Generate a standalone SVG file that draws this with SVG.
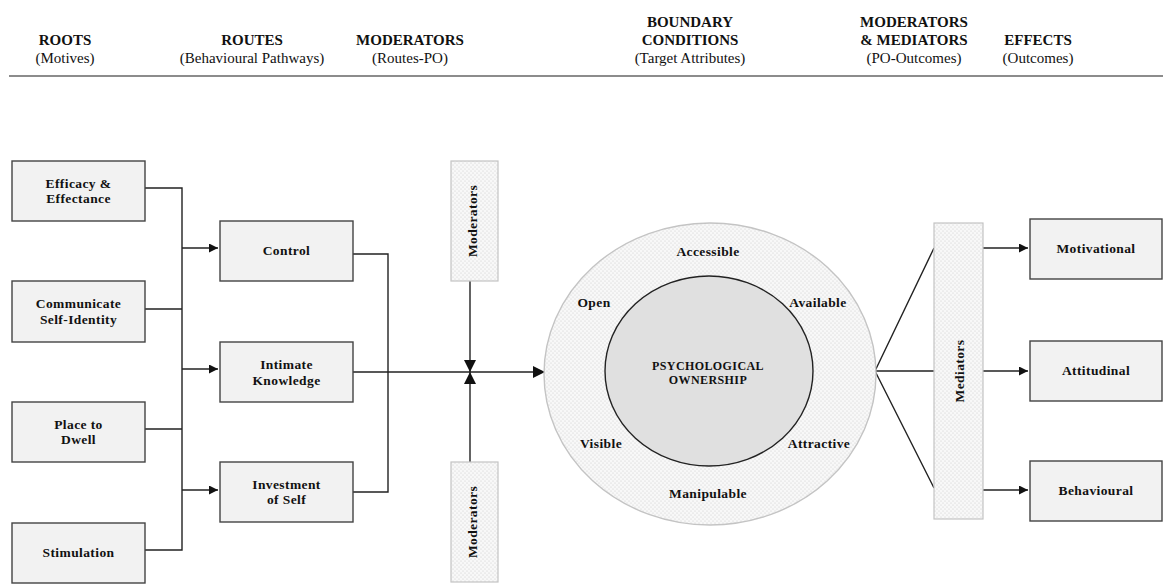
<svg xmlns="http://www.w3.org/2000/svg" width="1168" height="584" viewBox="0 0 1168 584" font-family="'Liberation Serif', 'Times New Roman', 'DejaVu Serif', serif">
<style>
text{font-family:'Liberation Serif','Times New Roman','DejaVu Serif',serif;fill:#111}
.h{font-size:15px;font-weight:bold;text-anchor:middle}
.s{font-size:15px;text-anchor:middle}
.n{font-size:13.5px;font-weight:bold;text-anchor:middle;letter-spacing:0.4px}
.box{fill:#f2f2f2;stroke:#444;stroke-width:1.4}
.dot{fill:url(#dots);stroke:#c4c4c4;stroke-width:1.2}
.ln{fill:none;stroke:#222;stroke-width:1.4}
</style>
<defs>
<pattern id="dots" width="4" height="4" patternUnits="userSpaceOnUse">
<rect width="4" height="4" fill="#f8f8f8"/>
<circle cx="1" cy="1" r="0.55" fill="#c8c8c8"/>
<circle cx="3" cy="3" r="0.55" fill="#c8c8c8"/>
</pattern>
<marker id="ar" viewBox="0 0 10 10" refX="10" refY="5" markerWidth="9" markerHeight="9" markerUnits="userSpaceOnUse" orient="auto">
<path d="M0,0 L10,5 L0,10 z" fill="#111"/>
</marker>
<marker id="ar2" viewBox="0 0 10 10" refX="10" refY="5" markerWidth="12" markerHeight="12" markerUnits="userSpaceOnUse" orient="auto">
<path d="M0,0 L10,5 L0,10 z" fill="#111"/>
</marker>
</defs>
<rect width="1168" height="584" fill="#fff"/>

<g id="header">
<text class="h" x="65" y="45">ROOTS</text>
<text class="s" x="65" y="63">(Motives)</text>
<text class="h" x="252" y="45">ROUTES</text>
<text class="s" x="252" y="63">(Behavioural Pathways)</text>
<text class="h" x="410" y="45">MODERATORS</text>
<text class="s" x="410" y="63">(Routes-PO)</text>
<text class="h" x="690" y="27">BOUNDARY</text>
<text class="h" x="690" y="45">CONDITIONS</text>
<text class="s" x="690" y="63">(Target Attributes)</text>
<text class="h" x="914" y="27">MODERATORS</text>
<text class="h" x="914" y="45">&amp; MEDIATORS</text>
<text class="s" x="914" y="63">(PO-Outcomes)</text>
<text class="h" x="1038" y="45">EFFECTS</text>
<text class="s" x="1038" y="63">(Outcomes)</text>
<line x1="9" y1="76" x2="1163" y2="76" stroke="#666" stroke-width="1.6"/>
</g>

<g id="connectors">
<path class="ln" d="M145,188 H182 V550 H145 M145,309 H182 M145,429 H182"/>
<line class="ln" x1="182" y1="248" x2="218" y2="248" marker-end="url(#ar)"/>
<line class="ln" x1="182" y1="369" x2="218" y2="369" marker-end="url(#ar)"/>
<line class="ln" x1="182" y1="490" x2="218" y2="490" marker-end="url(#ar)"/>
<path class="ln" d="M353,254 H388 V492 H353 M353,372 H388"/>
<line class="ln" x1="388" y1="372" x2="545" y2="372" marker-end="url(#ar2)"/>
<line class="ln" x1="470" y1="281" x2="470" y2="372" marker-end="url(#ar2)"/>
<line class="ln" x1="470" y1="462" x2="470" y2="372" marker-end="url(#ar2)"/>
<path class="ln" d="M875,371 L934,248 M875,371 H934 M875,371 L934,488"/>
<path d="M934,248 H983 M934,371 H983 M934,488 H983" stroke="#aaa" stroke-width="0.8" fill="none"/>
<line class="ln" x1="983" y1="248" x2="1028" y2="248" marker-end="url(#ar)"/>
<line class="ln" x1="983" y1="371" x2="1028" y2="371" marker-end="url(#ar)"/>
<line class="ln" x1="983" y1="490" x2="1028" y2="490" marker-end="url(#ar)"/>
</g>

<g id="efficacy"><rect class="box" x="12" y="161" width="133" height="60"/><text class="n" x="78.5" y="188">Efficacy &amp;</text><text class="n" x="78.5" y="203">Effectance</text></g>
<g id="communicate"><rect class="box" x="12" y="281" width="133" height="61"/><text class="n" x="78.5" y="308">Communicate</text><text class="n" x="78.5" y="324">Self-Identity</text></g>
<g id="place"><rect class="box" x="12" y="402" width="133" height="60"/><text class="n" x="78.5" y="429">Place to</text><text class="n" x="78.5" y="444">Dwell</text></g>
<g id="stimulation"><rect class="box" x="12" y="523" width="133" height="60"/><text class="n" x="78.5" y="557">Stimulation</text></g>

<g id="control"><rect class="box" x="220" y="221" width="133" height="60"/><text class="n" x="286.5" y="255">Control</text></g>
<g id="intimate"><rect class="box" x="220" y="342" width="133" height="60"/><text class="n" x="286.5" y="369">Intimate</text><text class="n" x="286.5" y="385">Knowledge</text></g>
<g id="investment"><rect class="box" x="220" y="462" width="133" height="60"/><text class="n" x="286.5" y="489">Investment</text><text class="n" x="286.5" y="504">of Self</text></g>

<g id="moderators-top"><rect class="dot" x="451" y="161" width="47" height="120"/><text class="n" transform="translate(477,221) rotate(-90)">Moderators</text></g>
<g id="moderators-bottom"><rect class="dot" x="451" y="462" width="47" height="120"/><text class="n" transform="translate(477,522) rotate(-90)">Moderators</text></g>

<g id="boundary">
<ellipse cx="710" cy="374" rx="166" ry="151" fill="url(#dots)" stroke="#c4c4c4" stroke-width="1.4"/>
<text class="n" x="708" y="256">Accessible</text>
<text class="n" x="594" y="307">Open</text>
<text class="n" x="818" y="307">Available</text>
<text class="n" x="601" y="448">Visible</text>
<text class="n" x="819" y="448">Attractive</text>
<text class="n" x="708" y="498">Manipulable</text>
</g>
<g id="po">
<ellipse cx="709" cy="371" rx="104" ry="95" fill="#e0e0e0" stroke="#222" stroke-width="1.4"/>
<text class="n" x="708" y="370" style="font-size:12px">PSYCHOLOGICAL</text>
<text class="n" x="708" y="384" style="font-size:12px">OWNERSHIP</text>
</g>

<g id="mediators"><rect class="dot" x="934" y="223" width="49" height="296"/><text class="n" transform="translate(964,371) rotate(-90)">Mediators</text></g>

<g id="motivational"><rect class="box" x="1030" y="219" width="132" height="60"/><text class="n" x="1096" y="253">Motivational</text></g>
<g id="attitudinal"><rect class="box" x="1030" y="341" width="132" height="60"/><text class="n" x="1096" y="375">Attitudinal</text></g>
<g id="behavioural"><rect class="box" x="1030" y="461" width="132" height="60"/><text class="n" x="1096" y="495">Behavioural</text></g>
</svg>
